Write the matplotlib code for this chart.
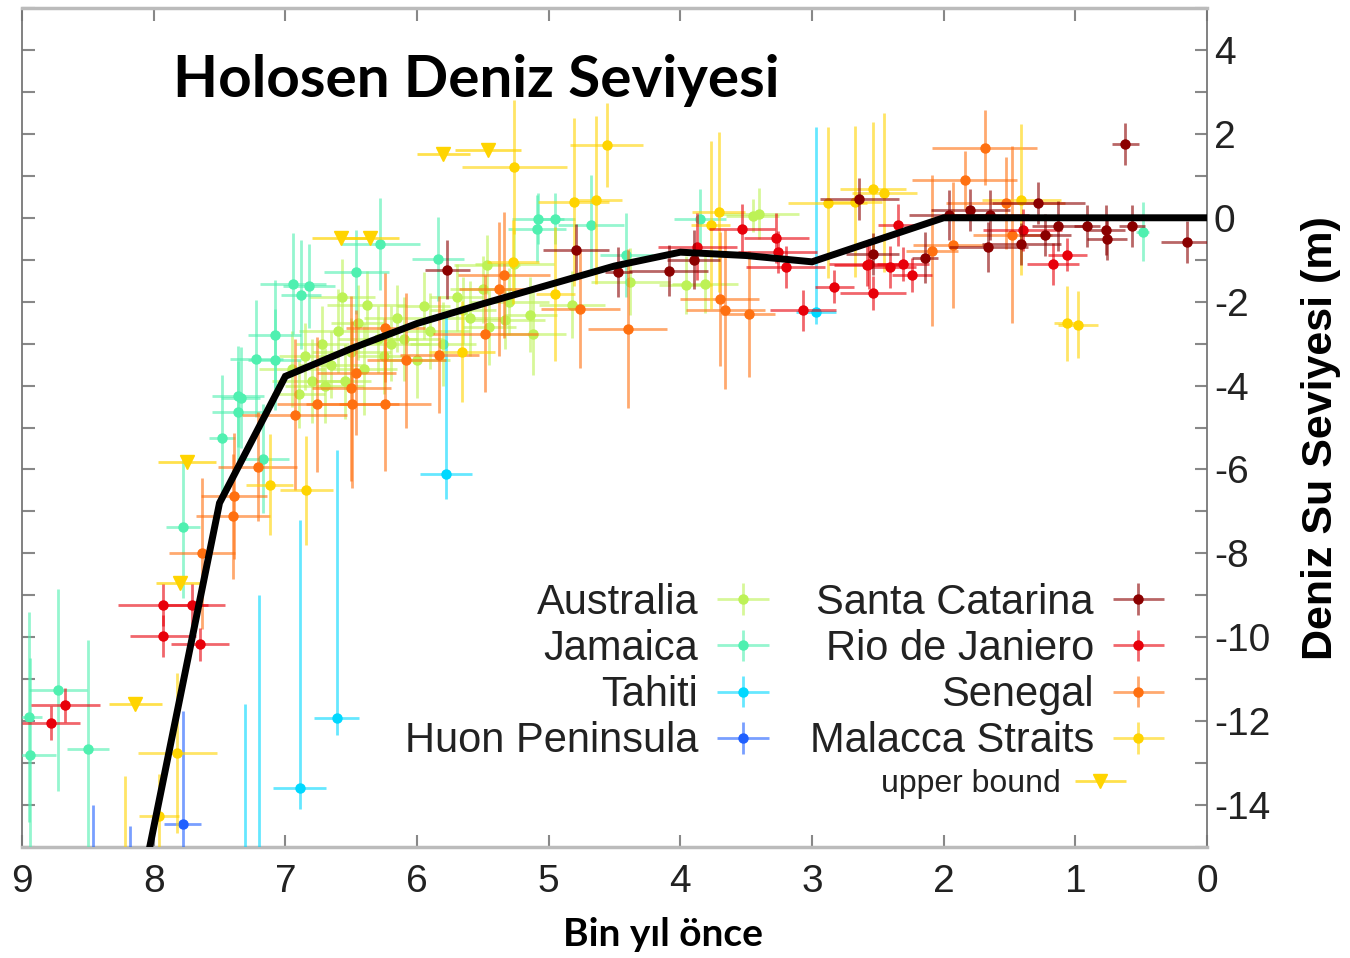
import matplotlib; matplotlib.use("Agg")
import matplotlib.pyplot as plt
from matplotlib.colors import to_rgba
from matplotlib.legend_handler import HandlerErrorbar
import numpy as np

plt.rcParams.update({"font.family": "Liberation Sans", "axes.unicode_minus": False})

# --- data ---
aus_x  = [6.95,6.85,6.8,6.72,6.65,6.6,6.55,6.5,6.45,6.4,6.3,6.25,6.15,6.1,6.0,5.95,5.9,5.8,5.7,5.6,5.5,5.45,5.3,
          6.57,6.38,5.47,5.26,5.14,5.12,5.33,4.82,4.38,3.96,3.81,3.4,3.45,6.9,6.7,6.2,5.65]
aus_y  = [-3.6,-3.3,-3.9,-3.0,-3.5,-2.7,-3.9,-3.2,-2.5,-3.6,-2.9,-3.3,-2.4,-2.9,-3.4,-2.1,-2.7,-3.0,-1.9,-2.4,-1.7,-2.6,-2.0,
          -1.88,-2.07,-1.12,-1.1,-2.31,-2.76,-2.43,-2.07,-1.52,-1.6,-1.57,0.1,0.05,-4.2,-4.0,-3.0,-2.2]
aus_xe = [0.25,0.2,0.3,0.2,0.25,0.3,0.2,0.3,0.2,0.25,0.3,0.2,0.25,0.3,0.25,0.2,0.3,0.25,0.2,0.3,0.25,0.2,0.3,
          0.25,0.3,0.25,0.3,0.2,0.25,0.3,0.25,0.3,0.2,0.25,0.3,0.2,0.2,0.3,0.3,0.25]
aus_ye = [0.9,0.8,1.0,0.9,0.8,1.0,0.9,0.8,0.9,1.1,0.8,0.9,0.8,1.0,0.9,0.8,0.9,1.0,0.8,0.9,0.8,0.9,0.8,
          0.9,0.8,0.7,0.8,0.9,1.0,0.7,0.8,0.8,0.7,0.7,0.6,0.4,0.8,0.9,0.9,0.8]

jam_x  = [8.73,8.95,8.94,8.50,7.78,7.48,7.36,7.36,7.17,6.94,6.82,6.88,7.08,7.22,7.08,7.34,
          6.46,6.28,5.84,5.08,5.09,4.95,4.68,3.85,4.41,0.49]
jam_y  = [-11.26,-11.9,-12.8,-12.67,-7.36,-5.26,-4.26,-4.62,-5.74,-1.57,-1.62,-1.83,-2.79,-3.36,-3.38,-4.29,
          -1.29,-0.62,-0.98,-0.02,-0.26,-0.02,-0.17,-0.02,-0.88,-0.33]
jam_xe = [0.22,0.1,0.2,0.16,0.13,0.1,0.2,0.2,0.2,0.25,0.2,0.15,0.2,0.2,0.2,0.15,
          0.25,0.3,0.2,0.2,0.22,0.15,0.25,0.2,0.2,0.05]
jam_ye = [2.4,2.5,2.3,2.6,1.7,1.5,1.2,1.2,1.3,1.2,1.0,1.3,1.3,1.4,1.2,1.2,
          1.0,1.1,1.0,0.6,0.8,0.6,1.2,0.7,1.0,0.7]

tah_x  = [5.78,2.97,6.61,6.89,7.2,7.31]
tah_y  = [-6.1,-2.24,-11.93,-13.6,-16.5,-16.5]
tah_xe = [0.2,0.15,0.17,0.2,0.04,0.04]
tah_lo = [0.6,0.3,0.4,0.5,0.0,0.0]
tah_hi = [3.8,4.4,6.4,6.4,7.5,4.9]

huon_x  = [7.78,8.46,8.18]
huon_y  = [-14.45,-16.0,-16.0]
huon_xe = [0.14,0.02,0.02]
huon_lo = [0.6,0.0,0.0]
huon_hi = [2.7,2.0,1.5]

sc_x  = [5.77,4.79,4.47,4.09,3.9,2.64,2.54,2.14,1.96,1.8,1.65,1.66,1.28,1.41,1.23,1.13,0.91,0.77,0.76,0.57,0.15,0.62]
sc_y  = [-1.24,-0.76,-1.29,-1.26,-1.0,0.45,-0.86,-0.95,0.07,0.19,0.07,-0.69,0.36,-0.62,-0.41,-0.19,-0.19,-0.29,-0.5,-0.19,-0.57,1.76]
sc_xe = [0.17,0.25,0.1,0.3,0.2,0.3,0.2,0.1,0.3,0.3,0.3,0.3,0.35,0.3,0.2,0.2,0.1,0.15,0.15,0.1,0.2,0.1]
sc_ye = [0.7,0.6,0.6,0.6,0.7,0.5,0.5,0.6,0.6,0.5,0.6,0.6,0.5,0.5,0.5,0.6,0.5,0.6,0.5,0.5,0.5,0.5]

rio_x  = [7.93,7.71,7.93,7.65,8.67,8.78,3.87,3.53,3.27,3.26,3.2,3.07,2.83,2.54,2.57,2.35,2.41,2.31,2.24,2.58,1.17,1.06,1.4]
rio_y  = [-9.24,-9.24,-9.98,-10.17,-11.62,-12.05,-0.69,-0.26,-0.48,-0.81,-1.17,-2.21,-1.64,-1.79,-1.1,-0.17,-1.17,-1.1,-1.36,-1.12,-1.1,-0.88,-0.29]
rio_xe = [0.34,0.25,0.25,0.22,0.26,0.22,0.3,0.25,0.25,0.3,0.3,0.25,0.15,0.25,0.3,0.15,0.2,0.2,0.15,0.25,0.2,0.15,0.3]
rio_ye = [0.5,0.5,0.5,0.4,0.4,0.4,0.8,0.6,0.6,0.5,0.5,0.5,0.4,0.4,0.6,0.5,0.5,0.4,0.4,0.5,0.5,0.4,0.5]

sen_x  = [7.21,7.39,7.40,7.63,6.93,6.76,6.49,6.5,6.46,6.24,6.08,6.24,5.83,5.48,5.38,5.34,4.76,4.4,3.7,3.66,3.48,
          1.69,1.84,1.53,1.48,1.93,2.09]
sen_y  = [-5.93,-6.64,-7.12,-8.0,-4.69,-4.45,-4.45,-4.07,-3.69,-4.43,-3.4,-2.62,-3.26,-2.76,-1.69,-1.36,-2.17,-2.64,-1.93,-2.19,-2.29,
          1.67,0.9,0.36,-0.4,-0.64,-0.79]
sen_xe = [0.3,0.25,0.28,0.25,0.4,0.3,0.35,0.3,0.3,0.35,0.3,0.3,0.3,0.4,0.3,0.35,0.3,0.3,0.3,0.3,0.2,
          0.4,0.4,0.45,0.3,0.3,0.2]
sen_ye = [1.3,1.5,1.5,1.8,1.8,1.6,2.0,2.2,1.5,1.6,1.6,1.3,1.4,1.4,1.6,1.5,1.4,1.9,1.6,1.9,1.5,
          0.9,0.7,1.1,2.1,1.5,1.8]

mal_x  = [7.12,6.84,7.82,7.96,8.22,5.26,4.56,4.81,4.64,4.95,5.66,5.27,3.71,3.77,2.88,2.67,2.54,2.45,1.41,1.06,0.98]
mal_y  = [-6.36,-6.5,-12.76,-14.26,-16.0,1.21,1.74,0.38,0.43,-1.81,-3.19,-1.05,0.14,-0.17,0.36,0.38,0.69,0.6,0.43,-2.52,-2.55]
mal_xe = [0.18,0.2,0.3,0.15,0.02,0.4,0.28,0.27,0.2,0.15,0.25,0.2,0.2,0.15,0.3,0.2,0.25,0.25,0.3,0.1,0.15]
mal_ye = [1.2,1.3,1.9,1.0,2.7,1.6,1.0,2.0,2.0,1.6,1.2,1.0,1.9,2.0,1.8,1.8,1.6,1.9,1.8,0.9,0.8]

ub_x  = [7.75,7.80,8.14,6.58,6.36,5.8,5.46]
ub_y  = [-5.83,-8.71,-11.6,-0.49,-0.49,1.52,1.62]
ub_xe = [0.22,0.18,0.2,0.22,0.22,0.2,0.25]

curve_x = [8.03,7.5,7.0,6.5,6.0,5.5,5.0,4.5,4.0,3.5,3.0,2.0,0.0]
curve_y = [-15.0,-6.8,-3.78,-3.12,-2.52,-2.05,-1.6,-1.15,-0.82,-0.9,-1.05,0.0,0.0]

AUS = "#bdf256"; JAM = "#4ff0b0"; TAH = "#00d8ff"; HUON = "#2060ff"
SC = "#8b0000"; RIO = "#e8000a"; SEN = "#ff7010"; MAL = "#ffd400"

fig = plt.figure(figsize=(13.5, 9.58), dpi=100)
ax = fig.add_axes([0.0163, 0.1159, 0.8778, 0.8757])

def eb(x, y, xe, ye, c, lab, z):
    return ax.errorbar(x, y, xerr=xe, yerr=ye, fmt="o", color=c, ms=6.5, mec=c,
                       ecolor=to_rgba(c, 0.6), elinewidth=2.0, capsize=0, label=lab, zorder=z)

h_aus = eb(aus_x, aus_y, aus_xe, aus_ye, AUS, "Australia", 2)
h_jam = eb(jam_x, jam_y, jam_xe, jam_ye, JAM, "Jamaica", 3)
h_tah = eb(tah_x, tah_y, tah_xe, [tah_lo, tah_hi], TAH, "Tahiti", 3)
h_huon = eb(huon_x, huon_y, huon_xe, [huon_lo, huon_hi], HUON, "Huon Peninsula", 3)
h_sen = eb(sen_x, sen_y, sen_xe, sen_ye, SEN, "Senegal", 4)
h_mal = eb(mal_x, mal_y, mal_xe, mal_ye, MAL, "Malacca Straits", 4)
h_rio = eb(rio_x, rio_y, rio_xe, rio_ye, RIO, "Rio de Janiero", 5)
h_sc = eb(sc_x, sc_y, sc_xe, sc_ye, SC, "Santa Catarina", 6)
h_ub = ax.errorbar(ub_x, ub_y, xerr=ub_xe, fmt="v", color=MAL, ms=10, ecolor=to_rgba(MAL, 0.7),
                   elinewidth=2.0, capsize=0, label="upper bound", zorder=4)

ax.plot(curve_x, curve_y, color="black", lw=5, zorder=10, solid_joinstyle="miter")

ax.set_xlim(9, 0); ax.set_ylim(-15, 5)
ax.set_xticks(range(0, 10))
ax.set_yticks(range(-14, 5, 2))
ax.set_yticks(range(-15, 6, 2), minor=True)
ax.tick_params(which="both", direction="in", top=True, right=True, left=True, bottom=True,
               labelleft=False, labelright=True, length=9, width=1.5, color="#888",
               labelsize=28, labelcolor="#222")
ax.tick_params(axis="x", pad=12)
ax.tick_params(axis="y", pad=5)
for s in ["top", "bottom"]:
    ax.spines[s].set_color("#bbb"); ax.spines[s].set_linewidth(2.5)
for s in ["left", "right"]:
    ax.spines[s].set_color("#777"); ax.spines[s].set_linewidth(1.3)

ax.set_xlabel("Bin yıl önce", family="Lato", fontweight="bold", fontsize=28)
ax.xaxis.set_label_coords(0.541, -0.084)
ax.yaxis.set_label_position("right")
ax.set_ylabel("Deniz Su Seviyesi (m)", fontweight="bold", fontsize=31)
ax.yaxis.set_label_coords(1.079, 0.488)
ax.text(0.383, 0.914, "Holosen Deniz Seviyesi", transform=ax.transAxes, ha="center", va="center",
        family="Lato", fontweight="bold", fontsize=42, zorder=20)

fs = 30
handles = [h_aus, h_jam, h_tah, h_huon, h_sc, h_rio, h_sen, h_mal]
labels = ["Australia", "Jamaica", "Tahiti", "Huon Peninsula",
          "Santa Catarina", "Rio de Janiero", "Senegal", "Malacca Straits"]
leg = ax.legend(handles, labels, ncol=2, loc="upper right", bbox_to_anchor=(0.972, 0.315),
                frameon=False, markerfirst=False, fontsize=fs, handlelength=1.7,
                labelspacing=0.15, columnspacing=0.75, handletextpad=0.22, labelcolor="#222",
                borderpad=0, borderaxespad=0,
                handler_map={type(h_aus): HandlerErrorbar(xerr_size=0.62, yerr_size=0.38)})
ax.add_artist(leg)
leg2 = ax.legend([h_ub], ["upper bound"], loc="center right", bbox_to_anchor=(0.933, 0.075),
                 frameon=False, markerfirst=False, fontsize=23, handlelength=1.7,
                 handletextpad=0.4, labelcolor="#222", borderpad=0, borderaxespad=0,
                 handler_map={type(h_ub): HandlerErrorbar(xerr_size=0.8)})

fig.savefig("out.png", dpi=100)
